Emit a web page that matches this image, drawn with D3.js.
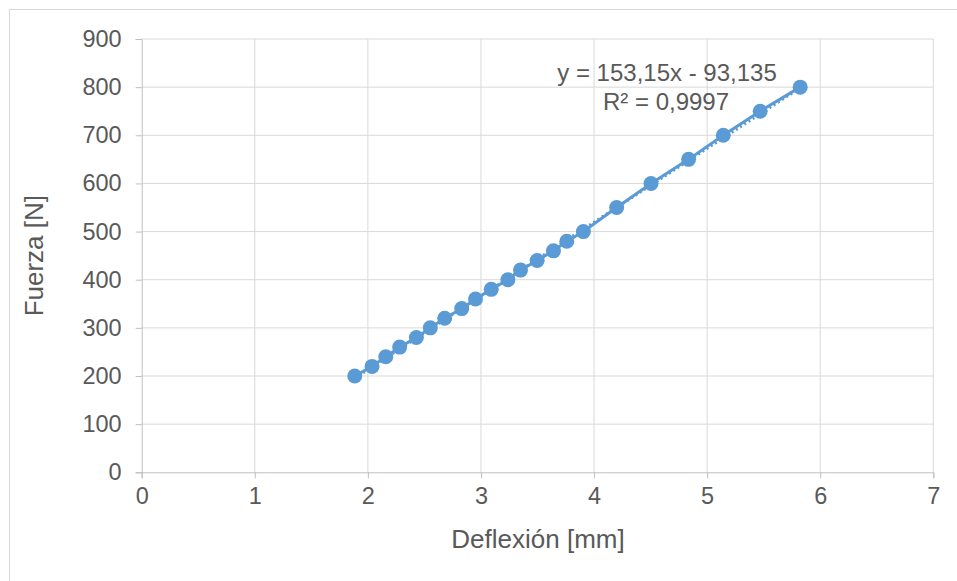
<!DOCTYPE html>
<html>
<head>
<meta charset="utf-8">
<script src="https://cdn.jsdelivr.net/npm/d3@7"></script>
<style>
  body { margin: 0; background: #fff; }
  text { font-family: "Liberation Sans", Arial, sans-serif; fill: #595959; }
</style>
</head>
<body>
<div id="chart"></div>
<script>
// deflexion (mm) vs fuerza (N)
const deflexion = [1.884, 2.037, 2.158, 2.281, 2.429, 2.552, 2.679, 2.83, 2.952, 3.091,
  3.238, 3.35, 3.497, 3.641, 3.759, 3.906, 4.2, 4.504, 4.836, 5.143, 5.469, 5.823]
const fuerza = [200, 220, 240, 260, 280, 300, 320, 340, 360, 380,
  400, 420, 440, 460, 480, 500, 550, 600, 650, 700, 750, 800]
const xTicks = [0, 1, 2, 3, 4, 5, 6, 7]
const yTicks = [0, 100, 200, 300, 400, 500, 600, 700, 800, 900]
// linear trendline shown on chart
const slope = 153.15
const intercept = -93.135
const trendLabel = ["y = 153,15x - 93,135", "R² = 0,9997"]

const width = 957, height = 581
const margin = { left: 141.7, right: 957 - 933.3, top: 39, bottom: 581 - 472.3 }
const blue = "#5B9BD5"

const svg = d3.select("#chart").append("svg")
  .attr("width", width)
  .attr("height", height)

// chart area border
svg.append("rect")
  .attr("x", 9.5).attr("y", 9.5)
  .attr("width", 960).attr("height", 600)
  .attr("fill", "#fff")
  .attr("stroke", "#D9D9D9")

const x = d3.scaleLinear().domain([0, 7]).range([margin.left, width - margin.right])
const y = d3.scaleLinear().domain([0, 900]).range([height - margin.bottom, margin.top])

// gridlines
svg.append("g").selectAll("line.h")
  .data(yTicks.slice(1))
  .join("line")
  .attr("x1", x(0)).attr("x2", x(7))
  .attr("y1", (d) => y(d)).attr("y2", (d) => y(d))
  .attr("stroke", "#D9D9D9").attr("stroke-width", 1)

svg.append("g").selectAll("line.v")
  .data(xTicks.slice(1))
  .join("line")
  .attr("x1", (d) => x(d)).attr("x2", (d) => x(d))
  .attr("y1", y(0)).attr("y2", y(900))
  .attr("stroke", "#D9D9D9").attr("stroke-width", 1)

// axes
const xAxis = svg.append("g")
  .attr("transform", `translate(0,${y(0)})`)
  .call(d3.axisBottom(x).tickValues(xTicks).tickSize(6).tickPadding(9).tickFormat(d3.format("d")))
const yAxis = svg.append("g")
  .attr("transform", `translate(${x(0)},0)`)
  .call(d3.axisLeft(y).tickValues(yTicks).tickSize(6).tickPadding(14).tickFormat(d3.format("d")))

;[xAxis, yAxis].forEach((ax) => {
  ax.select(".domain").attr("stroke", "#BFBFBF")
  ax.selectAll(".tick line").attr("stroke", "#BFBFBF")
  ax.selectAll("text")
    .attr("fill", "#595959")
    .style("font-size", "23.5px")
    .style("font-family", "'Liberation Sans', Arial, sans-serif")
})

// trendline (dotted), drawn under the series
const xMin = d3.min(deflexion), xMax = d3.max(deflexion)
svg.append("line")
  .attr("x1", x(xMin)).attr("y1", y(slope * xMin + intercept))
  .attr("x2", x(xMax)).attr("y2", y(slope * xMax + intercept))
  .attr("stroke", blue)
  .attr("stroke-width", 3)
  .attr("stroke-dasharray", "2,3")

const pts = deflexion.map((d, i) => [d, fuerza[i]])

svg.append("path")
  .datum(pts)
  .attr("fill", "none")
  .attr("stroke", blue)
  .attr("stroke-width", 3)
  .attr("stroke-linejoin", "round")
  .attr("d", d3.line().x((d) => x(d[0])).y((d) => y(d[1])))

svg.append("g").selectAll("circle")
  .data(pts)
  .join("circle")
  .attr("cx", (d) => x(d[0]))
  .attr("cy", (d) => y(d[1]))
  .attr("r", 7.5)
  .attr("fill", blue)

// trendline label
svg.append("text")
  .attr("x", 667).attr("y", 81)
  .attr("text-anchor", "middle")
  .style("font-size", "24px")
  .text(trendLabel[0])
svg.append("text")
  .attr("x", 666).attr("y", 110)
  .attr("text-anchor", "middle")
  .style("font-size", "24px")
  .text(trendLabel[1])

// axis titles
svg.append("text")
  .attr("x", 538)
  .attr("y", 548)
  .attr("text-anchor", "middle")
  .style("font-size", "26px")
  .text("Deflexión [mm]")

svg.append("text")
  .attr("transform", `translate(43,${(y(0) + y(900)) / 2}) rotate(-90)`)
  .attr("text-anchor", "middle")
  .style("font-size", "26px")
  .text("Fuerza [N]")
</script>
</body>
</html>
